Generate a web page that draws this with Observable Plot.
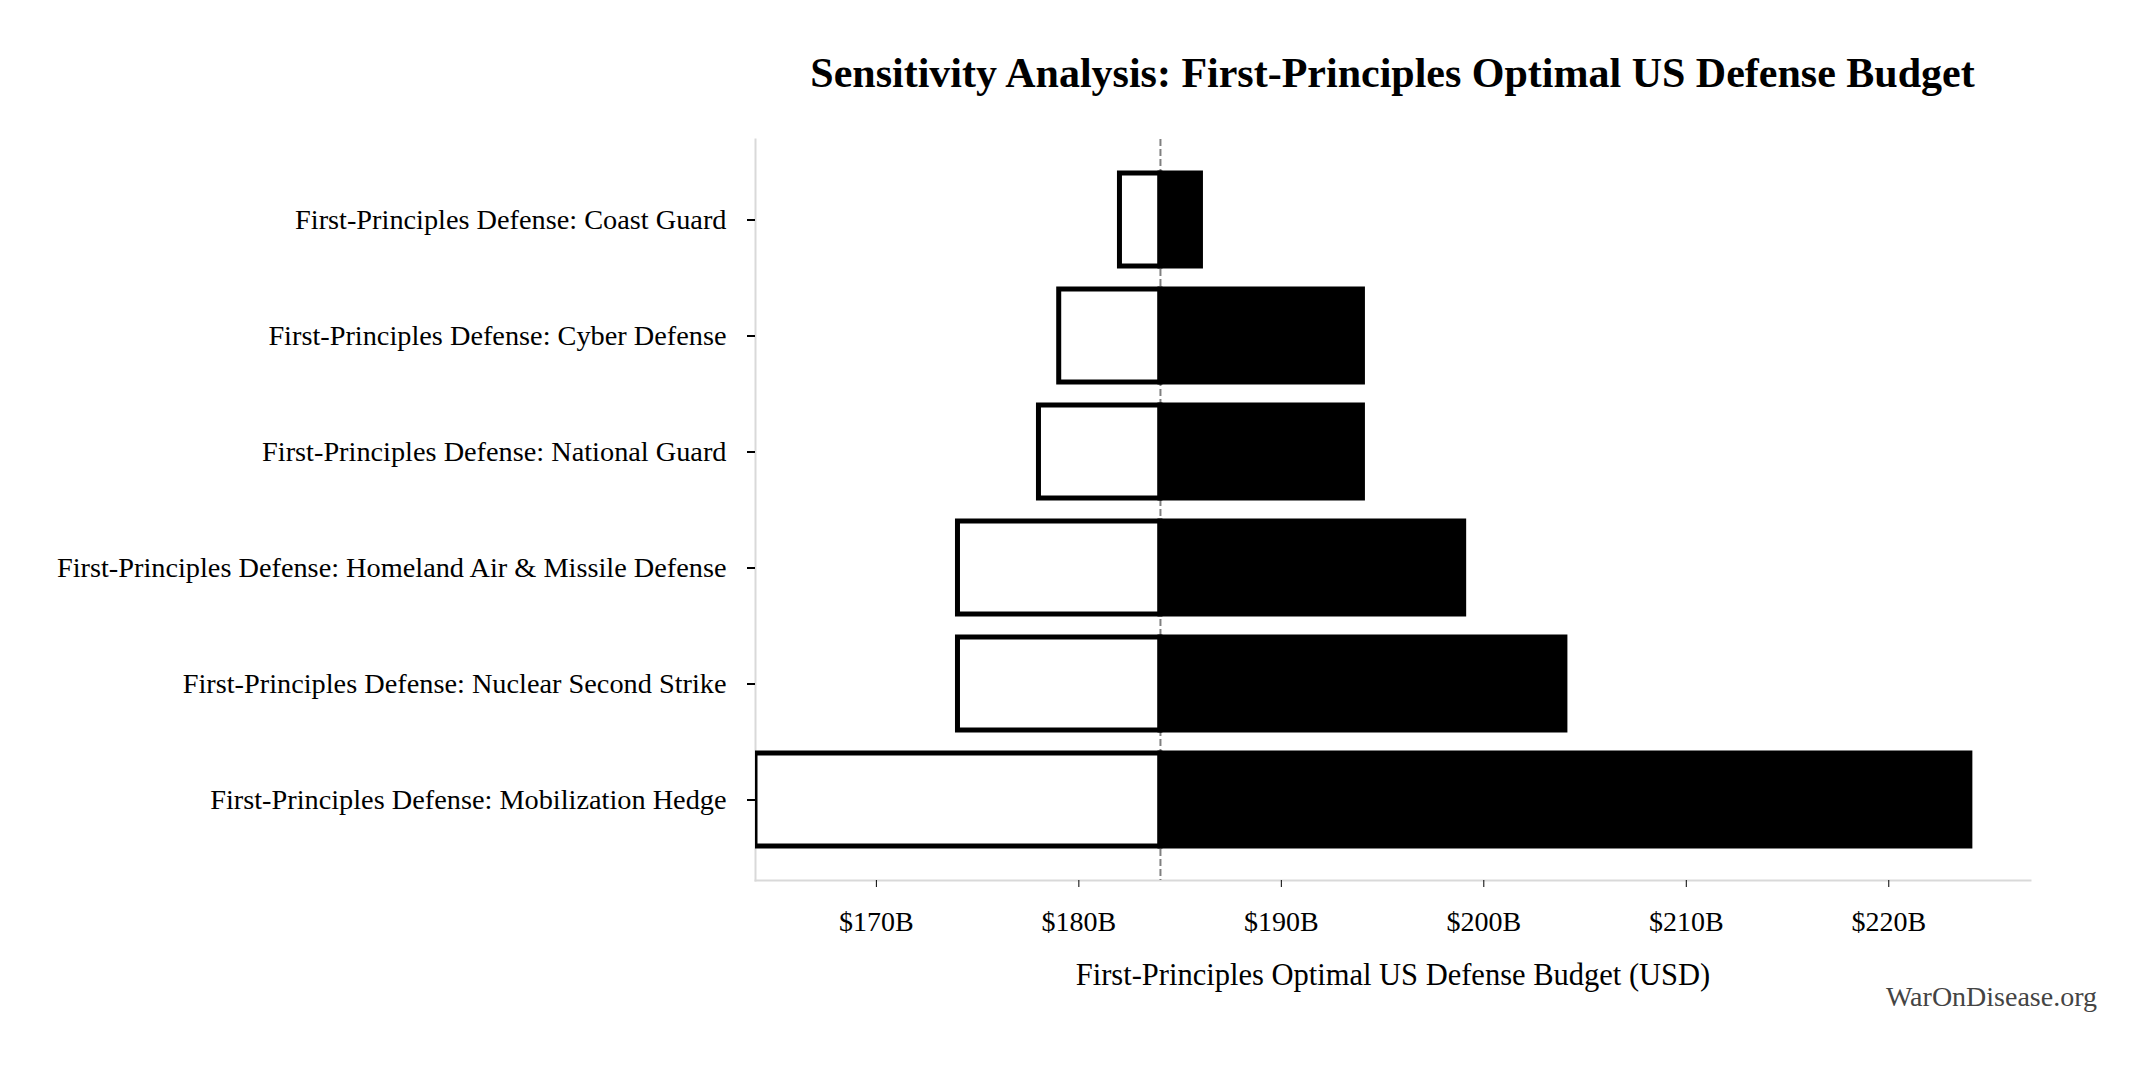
<!DOCTYPE html>
<html>
<head>
<meta charset="utf-8">
<script src="https://cdn.jsdelivr.net/npm/d3@7"></script>
<script src="https://cdn.jsdelivr.net/npm/@observablehq/plot@0.6"></script>
<style>
  html, body { margin: 0; padding: 0; background: #fff; }
  #wrap { position: relative; width: 2154px; height: 1071px; overflow: hidden; font-family: "Liberation Serif", serif; }
  #title { position: absolute; left: 755px; width: 1275px; top: 52px; text-align: center; font: bold 42px/42px "Liberation Serif", serif; color: #000; white-space: nowrap; }
  #chart { position: absolute; left: 0; top: 110px; }
  #credit { position: absolute; right: 57px; top: 983px; font: 28px/28px "Liberation Serif", serif; color: #444; }
</style>
</head>
<body>
<div id="wrap">
  <div id="title">Sensitivity Analysis: First-Principles Optimal US Defense Budget</div>
  <div id="chart"></div>
  <div id="credit">WarOnDisease.org</div>
</div>
<script>
const categories = [
  "First-Principles Defense: Coast Guard",
  "First-Principles Defense: Cyber Defense",
  "First-Principles Defense: National Guard",
  "First-Principles Defense: Homeland Air & Missile Defense",
  "First-Principles Defense: Nuclear Second Strike",
  "First-Principles Defense: Mobilization Hedge"
];
const lowValues  = [182.03, 179.03, 178.03, 174.03, 174.03, 164.03];
const highValues = [186.03, 194.03, 194.03, 199.03, 204.03, 224.03];
const baselineValue = 184.03;
const xDomain = [164.03, 227.0];
const xTicks = [170, 180, 190, 200, 210, 220];
const xLabel = "First-Principles Optimal US Defense Budget (USD)";

const rows = categories.map((c, i) => ({category: c, low: lowValues[i], high: highValues[i], base: baselineValue}));

const chart = Plot.plot({
  width: 2154,
  height: 961,
  marginTop: 29,
  marginBottom: 191,
  marginLeft: 755,
  marginRight: 124,
  style: {fontFamily: "Liberation Serif", fontSize: "28px", color: "#000", background: "white"},
  x: {domain: xDomain},
  y: {domain: categories, paddingInner: 0.198, paddingOuter: 0.29},
  marks: [
    Plot.frame({anchor: "left", stroke: "#d9d9d9", strokeWidth: 2}),
    Plot.frame({anchor: "bottom", stroke: "#d9d9d9", strokeWidth: 2}),
    Plot.ruleX([baselineValue], {stroke: "#808080", strokeWidth: 2, strokeDasharray: "7,3"}),
    Plot.barX(rows, {y: "category", x1: "low", x2: "base", fill: "white", stroke: "black", strokeWidth: 5, clip: true}),
    Plot.barX(rows, {y: "category", x1: "base", x2: "high", fill: "black", stroke: "black", strokeWidth: 5}),
    Plot.axisX({ticks: xTicks, tickFormat: d => `$${d}B`, tickSize: 7, tickPadding: 24, fontSize: 28, label: null}),
    Plot.axisY({tickSize: 8, tickPadding: 21, fontSize: 28.3, label: null, strokeWidth: 2}),
    Plot.text([xLabel], {text: d => d, frameAnchor: "bottom", lineAnchor: "bottom", dy: 104, fontSize: 30.5, fill: "#000"})
  ]
});
document.getElementById("chart").appendChild(chart);
</script>
</body>
</html>
